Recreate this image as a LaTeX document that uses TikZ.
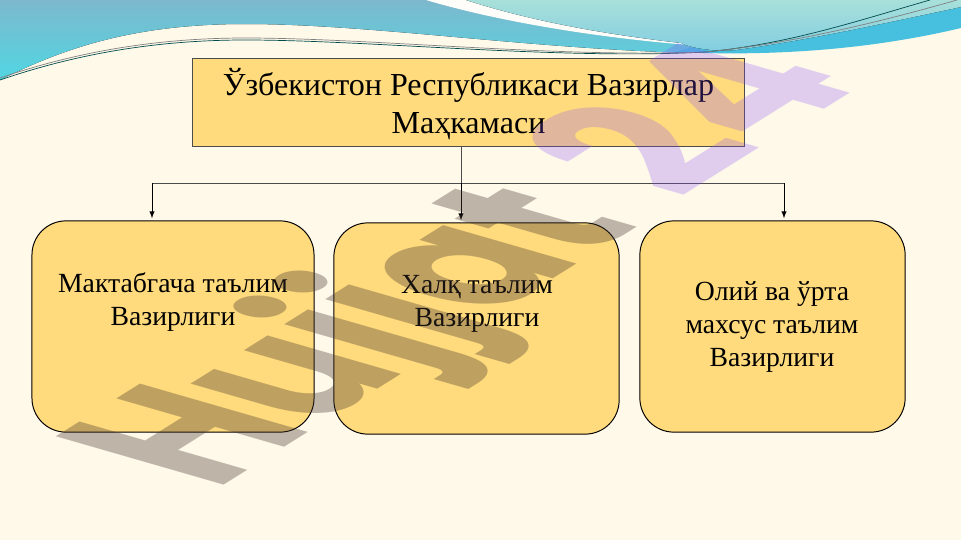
\documentclass[tikz,border=0pt]{standalone}
\usepackage{fontspec}
\setmainfont{Liberation Serif}
\newfontfamily\markfont{Poppins}
\usepackage{tikz}
\usetikzlibrary{arrows,positioning}

\definecolor{creambg}{HTML}{FFF9EA}
\definecolor{boxfill}{HTML}{FFDB7D}
\definecolor{markgrey}{RGB}{70,54,46}
\definecolor{markviolet}{RGB}{132,76,250}
\definecolor{wavetop}{RGB}{125,184,205}
\definecolor{wavelow}{RGB}{80,214,226}
\definecolor{wavemint}{RGB}{168,224,218}
\definecolor{wavesky}{RGB}{130,205,225}
\definecolor{waveblue}{RGB}{70,192,222}

\begin{document}
\begin{tikzpicture}[x=.025cm, y=-.025cm, >=latex, line width=.7pt,
  headbox/.style = {draw=black!70, fill=boxfill, minimum width=13.78cm, minimum height=2.18cm},
  minbox/.style = {draw=black, fill=boxfill, rounded corners=.85cm, minimum height=5.28cm},
  headtext/.style = {align=center, font=\fontsize{22.8}{27}\selectfont, text=black},
  mintext/.style = {align=center, font=\fontsize{19.7}{23.5}\selectfont, text=black},
  marktext/.style = {transform shape, inner sep=0pt, anchor=base west, font=\markfont\bfseries\fontsize{100}{100}\selectfont},
  thinwave/.style = {draw=#1, line width=.5pt}]

\useasboundingbox (0,0) rectangle (961,540);
\fill[creambg] (0,0) rectangle (961,540);

\fill[top color=wavetop, bottom color=wavelow] (0,0) -- (0,80) .. controls (60,50) and (130,24) .. (245,24) .. controls (370,24) and (520,48) .. (690,53) -- (730,0) -- cycle;
\fill[white!70!creambg] (426,0) .. controls (500,22) and (600,38) .. (690,45) -- (690,20) -- (466,0) -- cycle;
\fill[waveblue] (675,52) .. controls (760,56) and (860,52) .. (961,28) -- (961,0) -- (790,20) -- cycle;
\fill[top color=wavemint, bottom color=wavesky] (466,0) .. controls (540,24) and (620,36) .. (681,43) .. controls (690,48) and (715,52) .. (736,50) .. controls (810,40) and (890,22) .. (961,7) -- (961,0) -- cycle;
\draw[thinwave=teal!60!black] (0,80) .. controls (70,56) and (150,40) .. (245,40) .. controls (370,40) and (560,60) .. (705,52) .. controls (790,44) and (860,20) .. (930,0);
\draw[thinwave=gray] (0,78) .. controls (70,54) and (150,38) .. (245,38) .. controls (370,38) and (560,58) .. (705,52) .. controls (790,44) and (880,22) .. (957,0);

\node[headbox] (head) at (468.5,102.5) {};
\node[headtext] (headlabel) at (468.5,104) {Ўзбекистон Республикаси Вазирлар\\Маҳкамаси};
\node[minbox, minimum width=7.05cm] (left) at (173,326.5) {};
\node[minbox, minimum width=7.13cm] (mid) at (476.5,328.5) {};
\node[minbox, minimum width=6.63cm] (right) at (772.5,326.5) {};
\node[mintext] (leftlabel) at (173,302) {Мактабгача таълим\\Вазирлиги};
\node[mintext] (midlabel) at (477,304) {Халқ таълим\\Вазирлиги};
\node[mintext] (rightlabel) at (772,327) {Олий ва ўрта\\махсус таълим\\Вазирлиги};

\coordinate (branch) at (461,183);
\coordinate (leftdrop) at (152,183);
\coordinate (rightdrop) at (784,183);
\draw[black!70] (head.south -| branch) -- (branch);
\draw[black!70] (leftdrop) -- (rightdrop);
\draw[->] (branch) -- ([yshift=1.5pt]branch |- mid.north);
\draw[->] (leftdrop) -- ([yshift=1.5pt]leftdrop |- left.north);
\draw[->] (rightdrop) -- ([yshift=1.5pt]rightdrop |- right.north);

\begin{scope}[shift={(215,491)}, cm={1.07,.67,-1.70,.49,(0,0)}]
\node[marktext, xscale=.92, text=markgrey, text opacity=.35] (markword) at (0,0) {Hujjat};
\node[marktext, xshift=25pt, text=markviolet, text opacity=.25] (marknum) at (markword.base east) {24};
\end{scope}

\end{tikzpicture}
\end{document}
